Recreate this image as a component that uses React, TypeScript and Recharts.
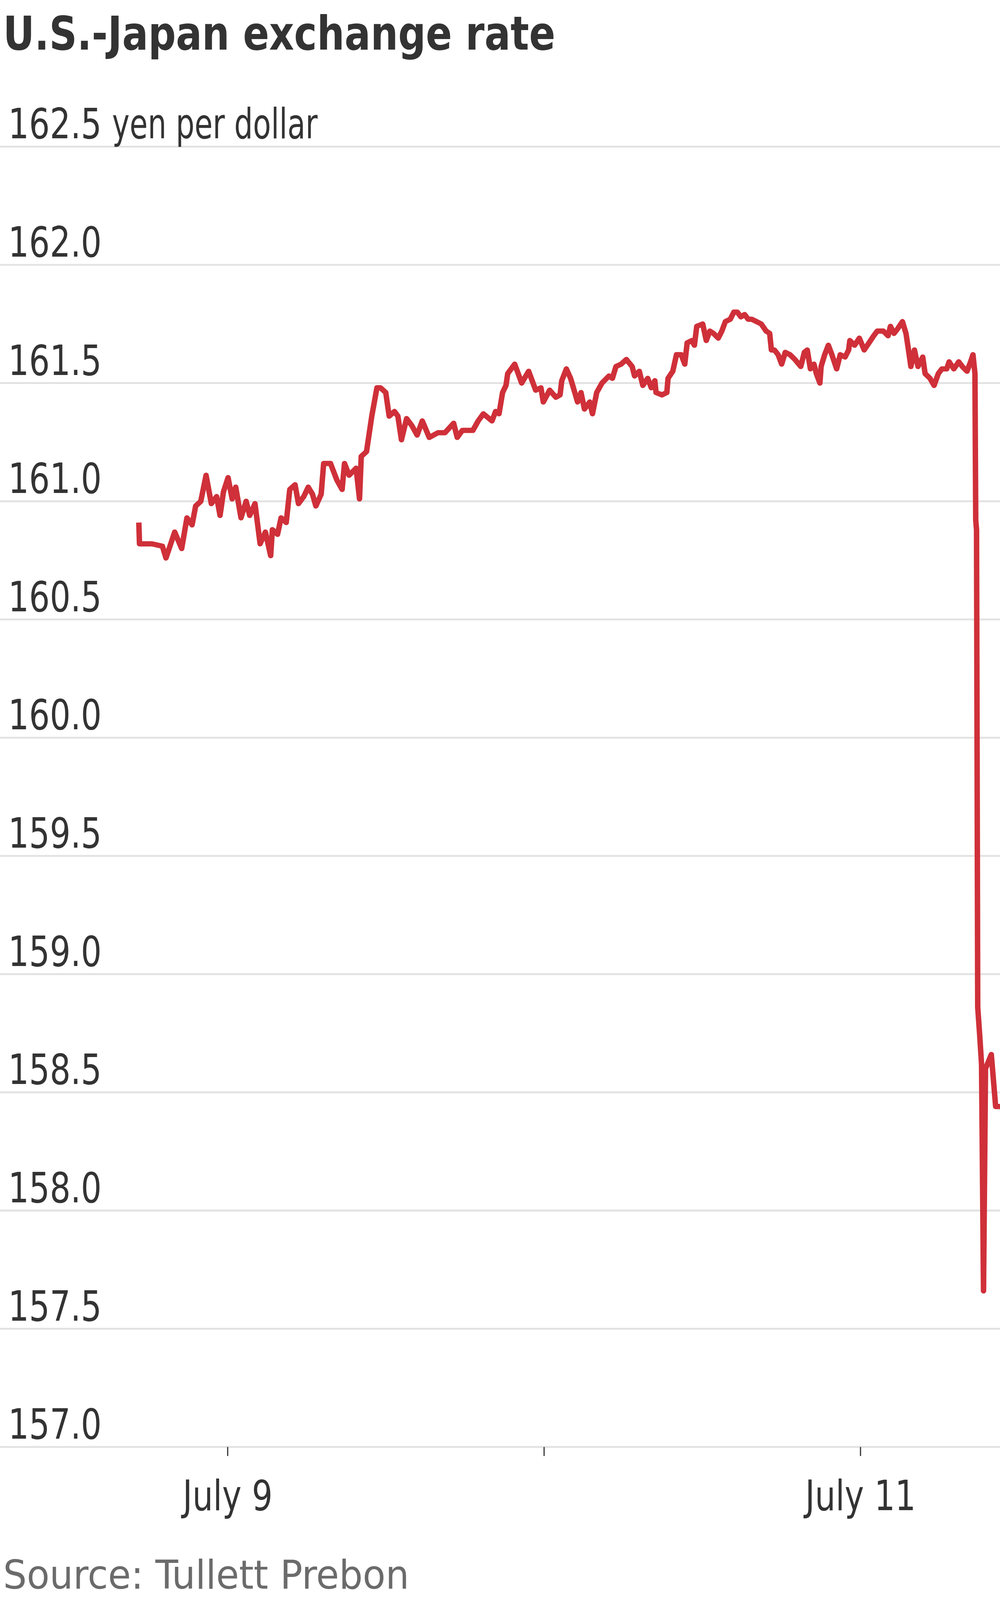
import React from "react";
import { LineChart, Line, XAxis, YAxis, CartesianGrid } from "recharts";

// hours since July 9, 00:00 ET
const HOURS = [
  -6.74, -6.69, -5.74, -4.95, -4.68, -4.02, -3.49, -3.09, -2.7, -2.43, -2.04, -1.64,
  -1.24, -0.84, -0.58, -0.32, 0.03, 0.34, 0.61, 1.01, 1.4, 1.67, 2.07, 2.46, 2.86,
  3.26, 3.39, 3.78, 4.05, 4.44, 4.71, 5.11, 5.37, 5.77, 6.11, 6.43, 6.69, 7.09, 7.28,
  7.8, 8.28, 8.68, 8.86, 9.21, 9.74, 10.0, 10.13, 10.53, 10.93, 11.32, 11.59, 11.99,
  12.25, 12.65, 12.91, 13.18, 13.57, 13.97, 14.37, 14.76, 15.29, 15.95, 16.48, 17.14,
  17.41, 17.8, 18.6, 19.0, 19.39, 20.05, 20.32, 20.58, 20.85, 21.11, 21.24, 21.77,
  22.3, 22.83, 23.36, 23.76, 23.94, 24.42, 24.89, 25.21, 25.34, 25.69, 26.01, 26.54,
  26.8, 27.06, 27.46, 27.67, 27.99, 28.39, 28.92, 29.18, 29.45, 29.84, 30.24, 30.68,
  30.86, 31.22, 31.49, 31.86, 32.13, 32.4, 32.49, 32.94, 33.31, 33.4, 33.76, 34.04,
  34.4, 34.67, 34.85, 35.21, 35.4, 35.58, 36.03, 36.3, 36.57, 36.85, 37.21, 37.48,
  37.75, 38.12, 38.39, 38.66, 38.93, 39.21, 39.48, 39.75, 40.11, 40.47, 40.84, 41.11,
  41.24, 41.47, 41.75, 42.02, 42.29, 42.65, 43.02, 43.47, 43.74, 43.96, 44.2, 44.47,
  44.65, 44.92, 45.01, 45.28, 45.56, 45.83, 46.19, 46.46, 46.83, 47.1, 47.19, 47.55,
  47.91, 48.28, 48.64, 49.0, 49.27, 49.73, 50.09, 50.27, 50.54, 50.82, 51.18, 51.45,
  51.64, 51.82, 52.09, 52.36, 52.72, 52.9, 53.27, 53.58, 53.9, 54.17, 54.54, 54.72,
  55.08, 55.45, 55.72, 56.08, 56.35, 56.53, 56.68, 56.74, 56.8, 56.89, 57.03, 57.18,
  57.33, 57.48, 57.92, 58.25, 58.58,
];

// yen per dollar
const YEN = [
  160.91, 160.82, 160.82, 160.81, 160.76, 160.87, 160.8, 160.93, 160.9, 160.98, 161.0,
  161.11, 160.99, 161.02, 160.94, 161.04, 161.1, 161.01, 161.06, 160.93, 161.0, 160.94,
  160.99, 160.82, 160.87, 160.77, 160.88, 160.86, 160.93, 160.91, 161.05, 161.07,
  160.99, 161.02, 161.06, 161.03, 160.98, 161.03, 161.16, 161.16, 161.09, 161.05,
  161.16, 161.11, 161.14, 161.01, 161.19, 161.21, 161.36, 161.48, 161.48, 161.46,
  161.36, 161.38, 161.36, 161.26, 161.35, 161.32, 161.28, 161.34, 161.27, 161.29,
  161.29, 161.33, 161.27, 161.3, 161.3, 161.34, 161.37, 161.34, 161.38, 161.37, 161.46,
  161.49, 161.54, 161.58, 161.5, 161.55, 161.47, 161.48, 161.42, 161.47, 161.44,
  161.45, 161.51, 161.56, 161.52, 161.42, 161.46, 161.39, 161.42, 161.37, 161.46,
  161.5, 161.53, 161.52, 161.57, 161.58, 161.6, 161.57, 161.53, 161.55, 161.49, 161.52,
  161.48, 161.51, 161.46, 161.45, 161.46, 161.52, 161.55, 161.62, 161.62, 161.58,
  161.67, 161.68, 161.66, 161.74, 161.75, 161.68, 161.72, 161.71, 161.69, 161.72,
  161.76, 161.77, 161.8, 161.8, 161.78, 161.79, 161.77, 161.77, 161.76, 161.75, 161.72,
  161.71, 161.64, 161.64, 161.62, 161.58, 161.63, 161.62, 161.6, 161.57, 161.63,
  161.64, 161.56, 161.58, 161.54, 161.5, 161.57, 161.62, 161.66, 161.62, 161.56,
  161.62, 161.61, 161.64, 161.68, 161.66, 161.69, 161.64, 161.67, 161.7, 161.72,
  161.72, 161.7, 161.74, 161.71, 161.73, 161.76, 161.71, 161.64, 161.57, 161.64,
  161.57, 161.61, 161.54, 161.52, 161.49, 161.54, 161.56, 161.56, 161.59, 161.56,
  161.59, 161.57, 161.55, 161.59, 161.62, 161.54, 160.92, 160.88, 158.86, 158.75,
  158.62, 157.66, 158.6, 158.66, 158.44, 158.44,
];

const Y_TICKS = [157, 157.5, 158, 158.5, 159, 159.5, 160, 160.5, 161, 161.5, 162, 162.5];
const X_TICKS = [0, 24, 48];
const X_TICK_LABELS = ["July 9", "", "July 11"];
const Y_UNIT = "yen per dollar";

const TITLE = "U.S.-Japan exchange rate";
const SOURCE = "Source: Tullett Prebon";

const data = HOURS.map((h, i) => ({ h, yen: YEN[i] }));

const NARROW = "'Liberation Sans Narrow', 'DejaVu Sans Condensed', 'Liberation Sans', sans-serif";
const SQUEEZE = 0.83;

// the captured page is 4096px tall, so the 4266px layout is fitted into it
const FIT = 4096 / 4266;

function YTick({ y, payload }: any) {
  const v = payload.value as number;
  const isTop = v === Y_TICKS[Y_TICKS.length - 1];
  return (
    <g>
      <text
        transform={`translate(21 ${y - 22}) scale(${SQUEEZE} 1)`}
        fill="#333"
        fontSize={112}
        fontFamily={NARROW}
      >
        {v.toFixed(1)}
      </text>
      {isTop && (
        <text
          transform={`translate(287 ${y - 22}) scale(0.75 1)`}
          fill="#333"
          fontSize={112}
          fontFamily={NARROW}
        >
          {Y_UNIT}
        </text>
      )}
    </g>
  );
}

function XTick({ x, y, payload }: any) {
  const label = X_TICK_LABELS[X_TICKS.indexOf(payload.value)];
  if (!label) return null;
  return (
    <text
      transform={`translate(${x} ${y}) scale(${SQUEEZE} 1)`}
      dy="0.71em"
      fill="#333"
      fontSize={112}
      fontFamily={NARROW}
      textAnchor="middle"
    >
      {label}
    </text>
  );
}

export default function App() {
  return (
    <div
      style={{
        position: "absolute",
        left: 0,
        top: 0,
        width: 2560,
        height: 4096,
        overflow: "hidden",
        background: "#fff",
      }}
    >
      <div
        style={{
          position: "relative",
          width: 2560,
          height: 4266,
          transform: `scaleY(${FIT})`,
          transformOrigin: "0 0",
        }}
      >
        <LineChart
          width={2560}
          height={4266}
          data={data}
          margin={{ top: 391, right: 0, bottom: 0, left: -1 }}
        >
          <CartesianGrid vertical={false} stroke="#e2e2e2" strokeWidth={5} />
          <XAxis
            dataKey="h"
            type="number"
            domain={[-17.27, 58.58]}
            ticks={X_TICKS}
            allowDataOverflow
            axisLine={false}
            tickSize={24}
            tickMargin={65}
            tickLine={{ stroke: "#333", strokeWidth: 3 }}
            tick={<XTick />}
            height={408}
          />
          <YAxis
            type="number"
            domain={[157, 162.5]}
            ticks={Y_TICKS}
            allowDataOverflow
            interval={0}
            axisLine={false}
            tickLine={false}
            width={1}
            tick={<YTick />}
          />
          <Line
            type="linear"
            dataKey="yen"
            stroke="#cf3039"
            strokeWidth={14}
            strokeLinejoin="round"
            dot={false}
            isAnimationActive={false}
          />
        </LineChart>
        <svg
          width={2560}
          height={4266}
          style={{ position: "absolute", left: 0, top: 0, pointerEvents: "none" }}
        >
          <text
            transform="translate(8 132) scale(0.887 1)"
            fontSize={124}
            fontWeight="bold"
            fill="#333"
            fontFamily={NARROW}
          >
            {TITLE}
          </text>
          <text x={8} y={4236} fontSize={106} fill="#6b6b6b" fontFamily={NARROW}>
            {SOURCE}
          </text>
        </svg>
      </div>
    </div>
  );
}
